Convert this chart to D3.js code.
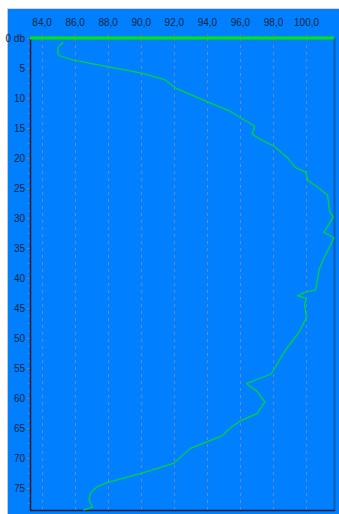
<!DOCTYPE html>
<html>
<head>
<meta charset="utf-8">
<script src="https://cdn.jsdelivr.net/npm/d3@7"></script>
<style>
  html, body { margin: 0; padding: 0; background: #ffffff; }
  svg { display: block; }
  .lbl { font-family: "Liberation Sans Narrow", "Liberation Sans", Arial, sans-serif; font-size: 10px; fill: #10243c; }
</style>
</head>
<body>
<svg id="chart" width="339" height="514"></svg>
<script>
// Level profile: value (x) against depth (y, downwards)
const depth = [0.7, 1.6, 2.7, 3.0, 3.7, 3.9, 4.8, 5.8, 7.0, 8.4, 10.6, 12.2, 13.2, 14.7, 16.05, 17.2, 18.0, 19.9, 21.6, 22.3, 23.8, 24.8, 26.2, 28.9, 29.8, 32.4, 33.3, 37.0, 38.7, 42.0, 42.4, 43.0, 43.4, 44.5, 46.6, 49.2, 52.0, 56.0, 57.6, 58.9, 60.7, 62.6, 63.8, 65.1, 66.3, 68.4, 70.9, 72.6, 74.1, 74.8, 75.9, 77.1, 78.2, 78.7];
const level = [85.32, 84.98, 85.0, 85.12, 85.93, 86.33, 88.05, 90.0, 91.48, 92.15, 94.0, 95.4, 95.99, 96.9, 96.74, 97.44, 98.05, 98.86, 99.36, 99.97, 100.13, 100.68, 101.3, 101.42, 101.65, 101.08, 101.69, 101.02, 100.78, 100.58, 99.91, 99.47, 100.03, 99.91, 100.03, 99.53, 98.76, 97.89, 96.39, 97.04, 97.5, 97.04, 96.03, 95.38, 94.92, 93.0, 91.99, 89.97, 87.95, 87.35, 86.94, 86.88, 87.08, 86.53];

// Axis ticks
const xTicks = [84, 86, 88, 90, 92, 94, 96, 98, 100];
const xMinorTicks = d3.range(83.5, 101.7, 0.5);
const yTicks = [0, 5, 10, 15, 20, 25, 30, 35, 40, 45, 50, 55, 60, 65, 70, 75];
const yMinorTicks = d3.range(0, 78.7, 1.25);
const yZeroLabel = "0 db";

const svg = d3.select("#chart");
const W = 339, H = 514;
const mLeft = 30, mRight = 334, mTop = 38, mBottom = 510;

const x = d3.scaleLinear().domain([83.3, 101.69]).range([mLeft, mRight]);
const y = d3.scaleLinear().domain([0, 78.67]).range([mTop, mBottom]);

// panel background
svg.append("rect").attr("x", 8).attr("y", 9).attr("width", W - 8).attr("height", H - 9).attr("fill", "#0080ff");
svg.append("line").attr("x1", 7.5).attr("x2", 7.5).attr("y1", 8).attr("y2", H).attr("stroke", "#c8c8c8").attr("stroke-width", 1);
svg.append("line").attr("x1", 7).attr("x2", W).attr("y1", 8.5).attr("y2", 8.5).attr("stroke", "#d8d8d8").attr("stroke-width", 1);

// vertical dashed grid
svg.append("g").attr("shape-rendering", "crispEdges").selectAll("line").data(xTicks).join("line")
  .attr("x1", d => Math.round(x(d)) + 0.5).attr("x2", d => Math.round(x(d)) + 0.5)
  .attr("y1", mTop).attr("y2", mBottom)
  .attr("stroke", "#7488a8").attr("stroke-width", 1)
  .attr("stroke-dasharray", "3,4");

// right and bottom frame
svg.append("line").attr("x1", mRight + 0.5).attr("x2", mRight + 0.5).attr("y1", mTop).attr("y2", mBottom + 1)
  .attr("stroke", "#0a5fb0").attr("stroke-width", 2);
svg.append("line").attr("x1", mLeft).attr("x2", mRight + 1).attr("y1", mBottom + 0.5).attr("y2", mBottom + 0.5)
  .attr("stroke", "#0b1f3a").attr("stroke-width", 1.5);

// x axis on top
const gx = svg.append("g").attr("transform", `translate(0,${mTop})`);
gx.call(d3.axisTop(x).tickValues(xMinorTicks).tickSize(2).tickFormat(""))
  .call(g => g.select(".domain").remove())
  .call(g => g.selectAll("line").attr("stroke", "#7488a8"));
const gx2 = svg.append("g").attr("transform", `translate(0,${mTop})`);
gx2.call(d3.axisTop(x).tickValues(xTicks).tickSize(4).tickPadding(8)
    .tickFormat(d => d3.format(".1f")(d).replace(".", ",")))
  .call(g => g.select(".domain").remove())
  .call(g => g.selectAll("line").attr("stroke", "#6a7a94").attr("y2", -4).attr("y1", 3))
  .call(g => g.selectAll("text").attr("class", "lbl").attr("font-size", null).attr("font-family", null).attr("fill", null));

// y axis on the left
const gy = svg.append("g").attr("transform", `translate(${mLeft},0)`);
gy.call(d3.axisLeft(y).tickValues(yMinorTicks).tickSize(2).tickFormat(""))
  .call(g => g.select(".domain").remove())
  .call(g => g.selectAll("line").attr("stroke", "#7488a8"));
const gy2 = svg.append("g").attr("transform", `translate(${mLeft},0)`);
gy2.call(d3.axisLeft(y).tickValues(yTicks).tickSize(3).tickPadding(2)
    .tickFormat(d => d === 0 ? yZeroLabel : d))
  .call(g => g.select(".domain").remove())
  .call(g => g.selectAll("line").attr("stroke", "#b07a40"))
  .call(g => g.selectAll("text").attr("class", "lbl").attr("font-size", null).attr("font-family", null).attr("fill", null));
svg.append("line").attr("x1", mLeft + 0.5).attr("x2", mLeft + 0.5).attr("y1", mTop).attr("y2", mBottom + 1)
  .attr("stroke", "#0b1f3a").attr("stroke-width", 1.5);

// zero-depth reference line
svg.append("line").attr("x1", x(83.3)).attr("x2", x(101.69)).attr("y1", y(0)).attr("y2", y(0))
  .attr("stroke", "#00e60a").attr("stroke-width", 3);

// profile curve
const pts = depth.map((d, i) => [level[i], d]);
svg.append("path").datum(pts)
  .attr("fill", "none").attr("stroke", "#00d23c").attr("stroke-width", 1.3)
  .attr("stroke-linejoin", "round")
  .attr("d", d3.line().x(d => x(d[0])).y(d => y(d[1])));
</script>
</body>
</html>
